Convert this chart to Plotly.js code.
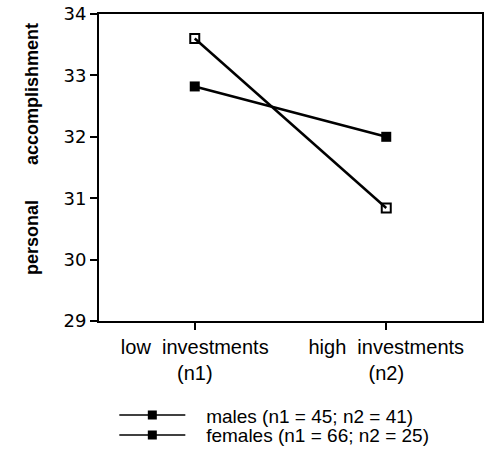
<!DOCTYPE html>
<html>
<head>
<meta charset="utf-8">
<script src="https://cdn.plot.ly/plotly-3.0.1.min.js"></script>
<style>html,body{margin:0;padding:0;background:#fff;}#chart{width:485px;height:457px;}</style>
</head>
<body>
<div id="chart"></div>
<script>
var categories = ["low  investments<br>(n1)", "high  investments<br>(n2)"];
var malesValues = [33.6, 30.84];
var femalesValues = [32.82, 32.0];
var seriesNames = ["males (n1 = 45; n2 = 41)", "females (n1 = 66; n2 = 25)"];
var yTicks = [29, 30, 31, 32, 33, 34];
var yTitle = "personal       accomplishment";

var traces = [
  {x: categories, y: malesValues, name: seriesNames[0], mode: "lines+markers",
   line: {color: "#000", width: 2.5},
   marker: {symbol: "square-open", size: 9, color: "#000", line: {width: 2, color: "#000"}},
   showlegend: false},
  {x: categories, y: femalesValues, name: seriesNames[1], mode: "lines+markers",
   line: {color: "#000", width: 2.5},
   marker: {symbol: "square", size: 10, color: "#000"},
   showlegend: false},
  {x: [null], y: [null], name: "   " + seriesNames[0], mode: "lines+markers", legend: "legend",
   line: {color: "#000", width: 1.5}, marker: {symbol: "square", size: 9, color: "#000"}},
  {x: [null], y: [null], name: "   " + seriesNames[1], mode: "lines+markers", legend: "legend2",
   line: {color: "#000", width: 1.5}, marker: {symbol: "square", size: 9, color: "#000"}}
];

var legendBase = {
  x: 0.04, xanchor: "left", yanchor: "middle",
  font: {size: 19, color: "#000", family: "Liberation Sans, Arial, sans-serif"},
  itemwidth: 66, bgcolor: "rgba(0,0,0,0)", borderwidth: 0
};

var layout = {
  width: 485, height: 457,
  margin: {l: 99, r: 3, t: 14, b: 134},
  paper_bgcolor: "#fff", plot_bgcolor: "#fff",
  font: {family: "Liberation Sans, Arial, sans-serif", color: "#000"},
  showlegend: true,
  legend: Object.assign({}, legendBase, {y: -0.307}),
  legend2: Object.assign({}, legendBase, {y: -0.372}),
  xaxis: {
    type: "category", range: [-0.5, 1.5],
    showline: true, linecolor: "#000", linewidth: 2, mirror: true,
    ticks: "outside", ticklen: 7, tickwidth: 2, tickcolor: "#000",
    showgrid: false, zeroline: false,
    tickfont: {size: 20, color: "#000"}
  },
  yaxis: {
    range: [29, 34], tickmode: "array", tickvals: yTicks,
    ticksuffix: "\u00a0",
    showline: true, linecolor: "#000", linewidth: 2, mirror: true,
    ticks: "outside", ticklen: 7, tickwidth: 2, tickcolor: "#000",
    showgrid: false, zeroline: false,
    tickfont: {size: 18, color: "#000", family: "DejaVu Sans, sans-serif"}
  },
  annotations: [{
    text: "<b>" + yTitle + "</b>", xref: "paper", yref: "paper",
    x: -0.175, y: 0.56, xanchor: "center", yanchor: "middle",
    textangle: -90, showarrow: false,
    font: {size: 18, color: "#000", family: "Liberation Sans, Arial, sans-serif"}
  }]
};

Plotly.newPlot("chart", traces, layout, {displayModeBar: false, staticPlot: true});
</script>
</body>
</html>
